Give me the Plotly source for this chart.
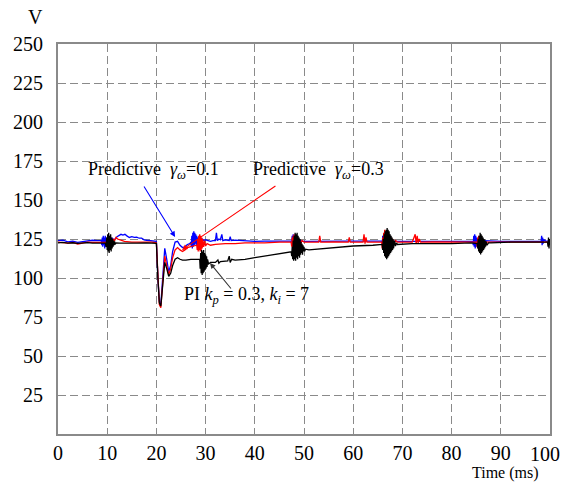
import plotly.graph_objects as go

# ---------------- data ----------------
t_blue = [0, 1, 2, 3, 4, 5, 6, 7, 8, 8.8,
          8.9, 9.0, 9.1, 9.2, 9.3, 9.4, 9.5, 9.6, 9.7, 9.8, 9.9, 10.0, 10.1, 10.2, 10.4, 10.6, 10.8, 11.0, 11.3, 11.6,
          12, 12.4, 12.8, 13.2, 13.6, 14, 14.5, 15, 15.5, 16, 16.5, 17, 17.5, 18, 19, 20,
          20.3, 20.6, 20.9, 21.3, 21.7, 22.1, 22.5, 22.9, 23.3, 23.8, 24.3, 24.8, 25.3, 25.8, 26.3, 26.8, 27.0,
          27.1, 27.2, 27.3, 27.4, 27.5, 27.6, 27.7, 27.8, 27.9, 28.0, 28.1, 28.2, 28.3, 28.4, 28.6, 28.8, 29.0, 29.3, 29.6, 30,
          30.5, 31, 31.5, 32, 32.2, 32.4, 32.7, 33, 33.3, 33.5, 34, 34.8, 35.0, 35.2, 36, 38, 40, 42, 44, 46, 47.4,
          47.5, 47.6, 47.7, 47.8, 47.9, 48.0, 48.1, 48.2, 48.3, 48.4, 48.6, 48.8, 49.0, 49.3, 49.6,
          51, 55, 60, 63, 65.8,
          65.9, 66.0, 66.1, 66.2, 66.3, 66.4, 66.5, 66.6, 66.7, 66.9, 67.1, 67.4, 67.8,
          70, 75, 80, 84.3,
          84.4, 84.5, 84.6, 84.7, 84.8, 84.9, 85.0, 85.1, 85.2, 85.3, 85.5, 85.7, 86, 86.5,
          90, 95, 98.2, 98.3, 98.4, 98.5, 98.6, 98.8, 99.2, 100]
v_blue = [124, 124.3, 123.2, 123.6, 122.8, 123.4, 124, 124.2, 124, 124,
          121, 126, 120, 127, 121, 126, 119, 127, 120, 126, 121, 125, 122, 126, 123, 125, 124, 125.5, 124.5, 125,
          126.5, 127.5, 128, 127.5, 128, 127, 126, 126.5, 126, 126.2, 125.5, 125.5, 124.5, 124.2, 124, 123.5,
          100, 85, 83, 105, 119, 112, 104, 108, 117, 123, 123.5, 121, 119.5, 120, 121.5, 122, 123,
          120, 127, 119, 129, 120, 130, 121, 129, 122, 128, 121, 127, 122, 126, 123, 125.5, 123.5, 125, 124, 124.5,
          124, 123.5, 124, 124, 129, 124, 125, 124.5, 128, 124, 124.5, 124, 126.5, 124, 124.3, 123.8, 123.5, 123.7, 123.5, 123.6, 123.8,
          121, 127, 120, 128, 119, 127, 120, 126, 121, 125, 122, 124.5, 122.5, 124, 123.5,
          123.5, 123.5, 123.7, 123.5, 123.8,
          121, 127, 119, 128, 120, 127, 121, 126, 122, 125, 123, 124.5, 123.5,
          123.5, 123.7, 123.5, 123.6,
          121, 127, 120, 128, 119, 127, 120, 126, 121, 125, 122, 124.5, 123, 124,
          123.5, 123.6, 123.5, 127, 121, 126, 122, 124.5, 123.5, 124]

t_red = [0, 1, 2, 3, 4, 5, 6, 7, 8, 9.8,
         9.9, 10.0, 10.1, 10.2, 10.3, 10.4, 10.5, 10.6, 10.7, 10.8, 11.0, 11.2, 11.5, 11.8, 12.1, 12.5,
         13.5, 15, 17, 19, 20,
         20.3, 20.6, 20.9, 21.3, 21.7, 22.1, 22.5, 22.9, 23.3, 23.8, 24.3, 24.8, 25.3, 25.8, 26.3, 26.8, 27.5, 28.2,
         28.3, 28.4, 28.5, 28.6, 28.7, 28.8, 28.9, 29.0, 29.1, 29.2, 29.3, 29.4, 29.6, 29.8, 30.0, 30.3,
         31, 32, 34, 36, 38, 40, 42, 45, 47.4,
         47.5, 47.6, 47.7, 47.8, 47.9, 48.0, 48.1, 48.2, 48.3, 48.4, 48.5, 48.6, 48.8, 49.0, 49.3, 49.6, 50,
         53, 53.2, 53.4, 56, 59, 59.2, 59.4, 62, 62.2, 62.4, 62.6, 62.8, 65.8,
         65.9, 66.0, 66.1, 66.2, 66.3, 66.4, 66.5, 66.6, 66.7, 66.8, 66.9, 67.0, 67.1, 67.2, 67.3, 67.4, 67.5, 67.6,
         67.8, 68.0, 68.3, 68.6,
         69, 72, 72.6, 72.8, 73.0, 73.2, 73.4, 73.7, 76, 80, 85.1,
         85.2, 85.3, 85.4, 85.5, 85.6, 85.7, 85.8, 85.9, 86.1, 86.3, 86.6,
         90, 95, 100]
v_red = [123, 122.6, 122.3, 122.8, 121.8, 122.4, 123, 122.8, 123, 123,
         120, 125, 119, 126, 120, 125, 121, 126, 122, 125, 122.5, 125, 124, 126, 125, 124.5,
         123.5, 123, 123, 123, 122.5,
         98, 83, 81, 100, 114, 108, 102, 106, 113, 118, 119.5, 118, 117, 118, 119.5, 120, 120.5, 121,
         118, 125, 117, 127, 118, 128, 117, 127, 118, 126, 119, 125, 120, 124, 120.5, 122,
         121, 121.5, 122, 122, 122.5, 122.5, 122.5, 123, 123,
         120, 126, 119, 127, 118, 128, 118, 127, 119, 126, 120, 125, 121, 124.5, 122, 124, 123,
         123, 127, 123, 123.2, 123, 126, 123, 123, 128, 122, 126, 123, 123,
         119, 126, 118, 129, 117, 131, 117, 130, 118, 130, 118, 129, 119, 128, 119, 127, 120, 126,
         121, 125, 122, 124,
         123, 123, 128, 122, 127, 122.5, 125, 123, 123.2, 123, 123,
         120, 126, 119, 127, 120, 126, 121, 125, 122, 124.5, 123,
         123, 123.2, 123]

t_black = [0, 1, 2, 3, 4, 5, 6, 7, 8, 9, 9.6,
           9.8, 9.9, 10.0, 10.1, 10.2, 10.3, 10.4, 10.5, 10.6, 10.7, 10.8, 10.9, 11.0, 11.1, 11.2, 11.3, 11.4, 11.5,
           11.6, 11.8, 12.5, 14, 16, 18, 20,
           20.3, 20.6, 20.9, 21.3, 21.7, 22.1, 22.5, 22.9, 23.3, 23.8, 24.3, 24.8, 25.3, 26, 27, 28, 28.8,
           28.9, 29.0, 29.1, 29.2, 29.3, 29.4, 29.5, 29.6, 29.7, 29.8, 29.9, 30.0, 30.1, 30.2, 30.3, 30.4, 30.6,
           31, 32, 32.5, 32.7, 33, 34.5, 34.8, 35, 35.3, 36, 38, 40, 42, 44, 46, 47.4,
           47.5, 47.6, 47.7, 47.8, 47.9, 48.0, 48.1, 48.2, 48.3, 48.4, 48.5, 48.6, 48.7, 48.8, 48.9, 49.0, 49.1, 49.2,
           49.3, 49.4, 49.5, 49.6, 49.7, 49.8, 49.9, 50.0, 50.1, 50.3,
           51, 55, 60, 64, 65.9,
           66.0, 66.1, 66.2, 66.3, 66.4, 66.5, 66.6, 66.7, 66.8, 66.9, 67.0, 67.1, 67.2, 67.3, 67.4, 67.5, 67.6, 67.7,
           67.8, 67.9, 68.0, 68.1, 68.2, 68.4, 68.6, 68.8,
           69, 72, 76, 80, 84, 85.2,
           85.3, 85.4, 85.5, 85.6, 85.7, 85.8, 85.9, 86.0, 86.1, 86.2, 86.3, 86.4, 86.5, 86.6, 86.7, 86.8, 86.9, 87.0,
           87.2, 87.5,
           88, 92, 96, 99.5, 99.6, 99.7, 99.8, 99.9, 100]
v_black = [122.5, 122.8, 122.3, 122.6, 122.2, 122.5, 122.7, 122.4, 122.5, 122.6, 122.3,
           120, 126, 118, 128, 117, 129, 116, 127, 118, 128, 117, 126, 119, 125, 120, 124, 121, 123.5,
           121.5, 122.5, 122.3, 122.5, 122.4, 122.5, 122.2,
           100, 84, 82, 98, 110, 106, 101, 103, 108, 112, 113, 112, 111.5, 111.5, 112, 112, 112,
           106, 116, 103, 118, 102, 117, 103, 118, 104, 116, 105, 115, 106, 114, 107, 112, 109,
           110, 110, 111.5, 109.5, 110.5, 111, 114, 110, 112, 111.5, 112, 113, 114, 115, 116, 116.8,
           114, 120, 112, 124, 111, 127, 112, 129, 111, 128, 113, 129, 112, 127, 114, 126, 113, 125,
           115, 123, 116, 122, 115, 121, 117, 120, 117, 118.5,
           118, 119, 120.5, 121, 121.5,
           118, 125, 116, 128, 114, 130, 113, 131, 112, 132, 113, 131, 114, 130, 115, 128, 116, 127,
           117, 126, 118, 125, 119, 124, 120.5, 122.5,
           121.5, 122, 122, 122, 122.5, 122,
           119, 125, 117, 127, 116, 129, 115, 128, 116, 127, 117, 126, 118, 125, 119, 124, 120, 123.5,
           121, 122.5,
           122.5, 123, 123, 123, 120, 126, 119, 125, 121]

x_ticks = [0, 10, 20, 30, 40, 50, 60, 70, 80, 90, 100]
y_ticks = [25, 50, 75, 100, 125, 150, 175, 200, 225, 250]

FONT = "Times New Roman, Liberation Serif, serif"

fig = go.Figure()
fig.add_trace(go.Scatter(x=t_blue, y=v_blue, mode="lines", line=dict(color="#0000ff", width=1.3), showlegend=False))
fig.add_trace(go.Scatter(x=t_red, y=v_red, mode="lines", line=dict(color="#ff0000", width=1.3), showlegend=False))
fig.add_trace(go.Scatter(x=t_black, y=v_black, mode="lines", line=dict(color="#000000", width=1.3), showlegend=False))

annots = []
# text labels
annots.append(dict(x=19.5, y=169, xref="x", yref="y", showarrow=False,
                   text="Predictive  <i>γ<sub>ω</sub></i>=0.1", font=dict(family=FONT, size=18, color="black")))
annots.append(dict(x=53, y=169, xref="x", yref="y", showarrow=False,
                   text="Predictive  <i>γ<sub>ω</sub></i>=0.3", font=dict(family=FONT, size=18, color="black")))
annots.append(dict(x=38.4, y=88.5, xref="x", yref="y", showarrow=False,
                   text="PI <i>k<sub>p</sub></i> = 0.3, <i>k<sub>i</sub></i> = 7", font=dict(family=FONT, size=18, color="black")))
# arrows
annots.append(dict(x=23.8, y=126.3, ax=17.3, ay=159.6, xref="x", yref="y", axref="x", ayref="y",
                   text="", showarrow=True, arrowhead=2, arrowsize=1, arrowwidth=1.1, arrowcolor="#0000ff"))
annots.append(dict(x=25.2, y=118, ax=44.5, ay=159.6, xref="x", yref="y", axref="x", ayref="y",
                   text="", showarrow=True, arrowhead=2, arrowsize=1, arrowwidth=1.1, arrowcolor="#ff0000"))
annots.append(dict(x=30.9, y=109.6, ax=35.4, ay=92.3, xref="x", yref="y", axref="x", ayref="y",
                   text="", showarrow=True, arrowhead=2, arrowsize=1, arrowwidth=1.1, arrowcolor="#333333"))
# axis titles
annots.append(dict(x=-0.045, y=1.035, xref="paper", yref="paper", showarrow=False, text="V",
                   xanchor="center", yanchor="bottom", font=dict(family=FONT, size=20, color="black")))
annots.append(dict(x=0.909, y=-0.1, xref="paper", yref="paper", showarrow=False,
                   text="Time (ms)", xanchor="center", yanchor="middle",
                   font=dict(family=FONT, size=16, color="black")))
# last x tick label (drawn as text so it is not clipped at the page edge)
annots.append(dict(x=x_ticks[-1], y=-0.05, xref="x", yref="paper", showarrow=False, text=str(x_ticks[-1]),
                   xanchor="center", yanchor="middle", xshift=-5, font=dict(family=FONT, size=20, color="black")))

fig.update_layout(
    width=561, height=499, autosize=False,
    margin=dict(l=58, r=11, t=44, b=65),
    plot_bgcolor="white", paper_bgcolor="white",
    font=dict(family=FONT, size=20, color="black"),
    annotations=annots,
    xaxis=dict(range=[0, 100], tickvals=x_ticks[:-1], ticktext=[str(v) for v in x_ticks[:-1]],
               tickfont=dict(family=FONT, size=20, color="black"),
               showgrid=True, gridcolor="#8a8a8a", gridwidth=1.4, griddash="8px,4px",
               showline=True, mirror=True, linecolor="#8a8a8a", linewidth=2,
               ticks="", zeroline=False, ticklabelstandoff=0, automargin=False),
    yaxis=dict(range=[0, 250], tickvals=y_ticks, ticktext=[str(v) for v in y_ticks],
               tickfont=dict(family=FONT, size=20, color="black"),
               showgrid=True, gridcolor="#8a8a8a", gridwidth=1.4, griddash="8px,4px",
               showline=True, mirror=True, linecolor="#8a8a8a", linewidth=2,
               ticks="", zeroline=False, ticklabelstandoff=9, automargin=False),
)

fig.write_html("out.html")
